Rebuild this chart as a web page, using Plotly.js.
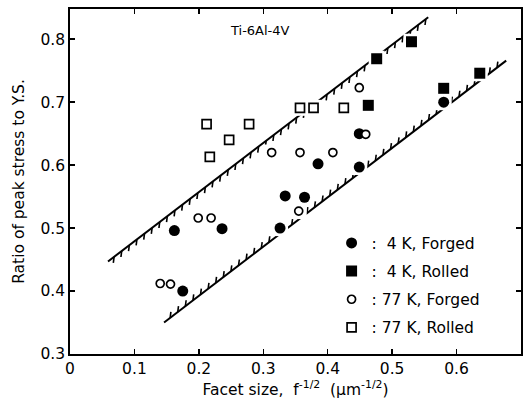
<!DOCTYPE html>
<html>
<head>
<meta charset="utf-8">
<script src="https://cdn.plot.ly/plotly-3.0.1.min.js"></script>
<style>html,body{margin:0;padding:0;background:#fff;}#chart{width:523px;height:407px;}</style>
</head>
<body>
<div id="chart"></div>
<script>
// 4 K, Forged (filled circles)
const forged4K_x = [0.162, 0.175, 0.236, 0.326, 0.334, 0.364, 0.385, 0.449, 0.449, 0.580];
const forged4K_y = [0.496, 0.400, 0.499, 0.500, 0.551, 0.549, 0.602, 0.650, 0.597, 0.700];
// 4 K, Rolled (filled squares)
const rolled4K_x = [0.463, 0.476, 0.530, 0.580, 0.636];
const rolled4K_y = [0.695, 0.769, 0.796, 0.722, 0.746];
// 77 K, Forged (open circles)
const forged77K_x = [0.140, 0.156, 0.199, 0.219, 0.313, 0.355, 0.357, 0.408, 0.449, 0.459];
const forged77K_y = [0.412, 0.411, 0.516, 0.516, 0.620, 0.527, 0.620, 0.620, 0.723, 0.649];
// 77 K, Rolled (open squares)
const rolled77K_x = [0.212, 0.217, 0.247, 0.278, 0.357, 0.378, 0.425];
const rolled77K_y = [0.665, 0.613, 0.640, 0.665, 0.691, 0.691, 0.691];
// Scatter band limits (hatched lines)
const upperLine_x = [0.059, 0.556];
const upperLine_y = [0.447, 0.835];
const lowerLine_x = [0.146, 0.677];
const lowerLine_y = [0.350, 0.766];
const legendNames = [":  4 K, Forged", ":  4 K, Rolled", ": 77 K, Forged", ": 77 K, Rolled"];
const xTicks = [0, 0.1, 0.2, 0.3, 0.4, 0.5, 0.6];
const yTicks = [0.3, 0.4, 0.5, 0.6, 0.7, 0.8];

function hatch(lx, ly, dir) {
  const xs = [], ys = [];
  const slope = (ly[1] - ly[0]) / (lx[1] - lx[0]);
  const step = 0.0118, len = 0.0095;
  for (let x = lx[0] + step * 0.8; x <= lx[1] - step * 0.3; x += step) {
    const y = ly[0] + slope * (x - lx[0]);
    xs.push(x, x + dir * 0.0012, null);
    ys.push(y, y + dir * len, null);
  }
  return {x: xs, y: ys};
}
const hu = hatch(upperLine_x, upperLine_y, -1);
const hl = hatch(lowerLine_x, lowerLine_y, 1);

const lineStyle = {color: '#000', width: 2};
const traces = [
  {x: upperLine_x, y: upperLine_y, mode: 'lines', line: lineStyle, showlegend: false, hoverinfo: 'skip'},
  {x: lowerLine_x, y: lowerLine_y, mode: 'lines', line: lineStyle, showlegend: false, hoverinfo: 'skip'},
  {x: hu.x, y: hu.y, mode: 'lines', line: {color: '#000', width: 1.6}, showlegend: false, hoverinfo: 'skip', connectgaps: false},
  {x: hl.x, y: hl.y, mode: 'lines', line: {color: '#000', width: 1.6}, showlegend: false, hoverinfo: 'skip', connectgaps: false},
  // white halos to break the lines around markers
  {x: [].concat(forged4K_x, rolled4K_x, forged77K_x, rolled77K_x),
   y: [].concat(forged4K_y, rolled4K_y, forged77K_y, rolled77K_y),
   mode: 'markers', marker: {color: '#fff', size: 16, symbol: 'square'}, showlegend: false, hoverinfo: 'skip'},
  {x: forged4K_x, y: forged4K_y, mode: 'markers', name: legendNames[0], legendgroup: 'a',
   marker: {symbol: 'circle', size: 11, color: '#000'}},
  {x: rolled4K_x, y: rolled4K_y, mode: 'markers', name: legendNames[1], legendgroup: 'b',
   marker: {symbol: 'square', size: 11, color: '#000'}},
  {x: forged77K_x, y: forged77K_y, mode: 'markers', name: legendNames[2], legendgroup: 'c',
   marker: {symbol: 'circle', size: 8, color: '#fff', line: {color: '#000', width: 1.7}}},
  {x: rolled77K_x, y: rolled77K_y, mode: 'markers', name: legendNames[3], legendgroup: 'd',
   marker: {symbol: 'square', size: 9, color: '#fff', line: {color: '#000', width: 1.7}}}
];

const font = {family: 'DejaVu Sans, sans-serif', color: '#000'};
const axisCommon = {
  showgrid: false, zeroline: false, showline: true, linecolor: '#000', linewidth: 1.8,
  mirror: 'ticks', ticks: 'inside', ticklen: 5, tickwidth: 1.5, tickcolor: '#000',
  tickfont: Object.assign({size: 15.5}, font)
};
const layout = {
  width: 523, height: 407,
  margin: {l: 70, r: 2, t: 9, b: 53},
  paper_bgcolor: '#fff', plot_bgcolor: '#fff',
  font: font,
  xaxis: Object.assign({}, axisCommon, {
    range: [0, 0.7], tickvals: xTicks, ticktext: xTicks.map(String),
    title: {text: 'Facet size,  f<sup>-1/2</sup>  (\u03bcm<sup>-1/2</sup>)', font: Object.assign({size: 15.5}, font), standoff: 5}
  }),
  yaxis: Object.assign({}, axisCommon, {
    range: [0.3, 0.848], tickvals: yTicks, ticktext: yTicks.map(v => v.toFixed(1)),
    title: {text: 'Ratio of peak stress to Y.S.', font: Object.assign({size: 15.5}, font), standoff: 12}
  }),
  legend: {
    x: 0.58, y: 0.37, xanchor: 'left', yanchor: 'top',
    font: Object.assign({size: 15.5}, font), bgcolor: 'rgba(0,0,0,0)',
    traceorder: 'grouped', tracegroupgap: 5, itemwidth: 30
  },
  annotations: [{
    x: 0.295, y: 0.814, xref: 'x', yref: 'y', text: 'Ti-6Al-4V', showarrow: false,
    font: Object.assign({size: 13}, font)
  }],
  showlegend: true
};
Plotly.newPlot('chart', traces, layout, {displayModeBar: false, staticPlot: true});
</script>
</body>
</html>
